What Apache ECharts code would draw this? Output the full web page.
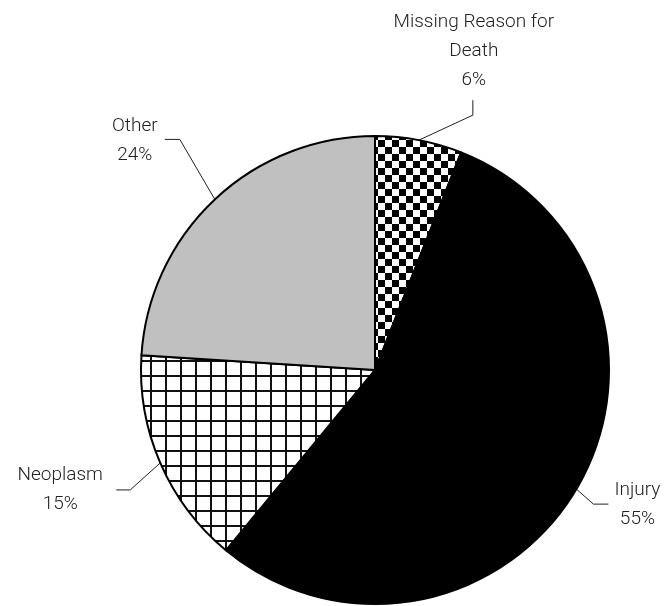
<!DOCTYPE html>
<html>
<head>
<meta charset="utf-8">
<script src="https://cdn.jsdelivr.net/npm/echarts@6/dist/echarts.min.js"></script>
<style>
html,body{margin:0;padding:0;background:#fff;}
#chart{width:667px;height:606px;}
</style>
</head>
<body>
<div id="chart"></div>
<script>
// Data
var categories = ['Missing Reason for\nDeath', 'Injury', 'Neoplasm', 'Other'];
var values = [6, 55, 15, 24];

// Patterns
function checker() {
  var c = document.createElement('canvas');
  c.width = 14; c.height = 14;
  var g = c.getContext('2d');
  g.fillStyle = '#fff'; g.fillRect(0, 0, 14, 14);
  g.fillStyle = '#000';
  g.fillRect(0, 0, 7, 7); g.fillRect(7, 7, 7, 7);
  return c;
}
function grid() {
  var c = document.createElement('canvas');
  c.width = 15; c.height = 15;
  var g = c.getContext('2d');
  g.fillStyle = '#fff'; g.fillRect(0, 0, 15, 15);
  g.fillStyle = '#111';
  g.fillRect(0, 0, 2, 15); g.fillRect(0, 0, 15, 2);
  return c;
}
var fills = [
  { image: checker(), repeat: 'repeat' },
  '#000000',
  { image: grid(), repeat: 'repeat' },
  '#c0c0c0'
];
// label placement offsets relative to the slice edge point: [bend, end, label pos]
var layoutOffsets = [
  { bend: [54, -25], end: [54, -40], label: [55, -45], va: 'bottom' },
  { bend: [17, 15], end: [32, 15], label: [61, 16], va: 'middle' },
  { bend: [-30, 27], end: [-44, 27], label: [-100, 27], va: 'middle' },
  { bend: [-35, -60], end: [-50, -60], label: [-80, -59], va: 'middle' }
];

var chart = echarts.init(document.getElementById('chart'), null, { renderer: 'canvas' });
var data = categories.map(function (n, i) {
  return { name: n, value: values[i], itemStyle: { color: fills[i] } };
});
chart.setOption({
  animation: false,
  backgroundColor: '#fff',
  series: [{
    type: 'pie',
    center: [375, 370],
    radius: 234,
    startAngle: 90,
    clockwise: true,
    data: data,
    itemStyle: { borderColor: '#000', borderWidth: 2 },
    label: {
      show: true,
      formatter: '{b}\n{d}%',
      color: '#222',
      fontFamily: 'Roboto, Liberation Sans, sans-serif',
      fontWeight: 300,
      fontSize: 19,
      lineHeight: 29,
      align: 'center',
      width: 200,
      overflow: 'none'
    },
    labelLine: { show: true, lineStyle: { color: '#222', width: 1 }, length: 20, length2: 15 },
    labelLayout: function (p) {
      var o = layoutOffsets[p.dataIndex];
      var e = p.labelLinePoints[0];
      return {
        x: e[0] + o.label[0],
        y: e[1] + o.label[1],
        align: 'center',
        verticalAlign: o.va,
        hideOverlap: false,
        labelLinePoints: [e, [e[0] + o.bend[0], e[1] + o.bend[1]], [e[0] + o.end[0], e[1] + o.end[1]]]
      };
    }
  }]
});
</script>
</body>
</html>
